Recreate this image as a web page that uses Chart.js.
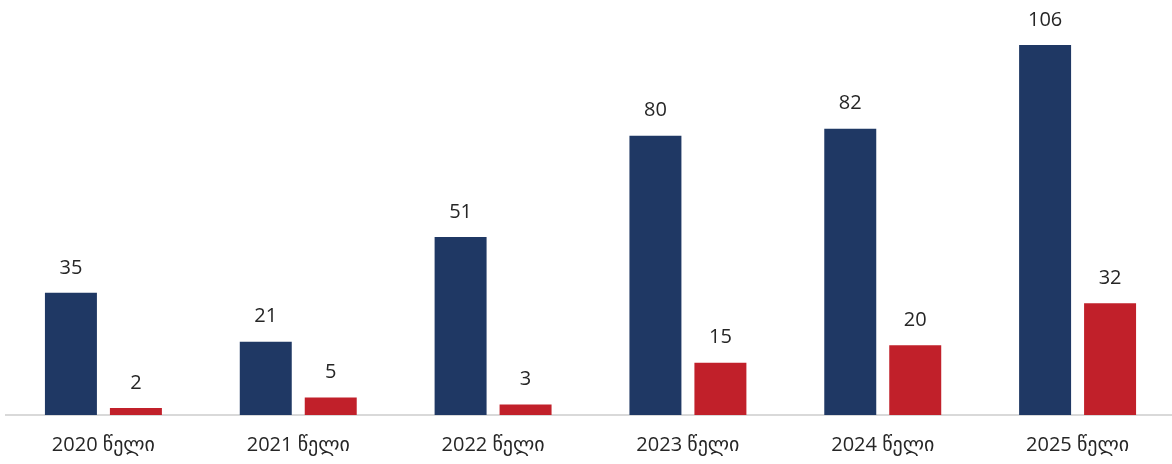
<!DOCTYPE html>
<html lang="ka">
<head>
    <meta charset="UTF-8">
    <title>Chart</title>
    <script src="https://cdn.jsdelivr.net/npm/chart.js"></script>
    <style>
        html, body { margin: 0; padding: 0; background: #fff; overflow: hidden; }
        #wrap { width: 1175px; height: 464px; }
    </style>
</head>
<body>
<div id="wrap"><canvas id="chart"></canvas></div>
<script>
    const years = ['2020 წელი', '2021 წელი', '2022 წელი', '2023 წელი', '2024 წელი', '2025 წელი'];
    const seriesBlue = [35, 21, 51, 80, 82, 106];
    const seriesRed = [2, 5, 3, 15, 20, 32];

    const fontFamily = "'Open Sans', 'DejaVu Sans', sans-serif";

    // value labels above every bar
    const barLabels = {
        id: 'barLabels',
        afterDatasetsDraw(chart) {
            const ctx = chart.ctx;
            ctx.save();
            ctx.font = '20px ' + fontFamily;
            ctx.fillStyle = '#262626';
            ctx.textAlign = 'center';
            ctx.textBaseline = 'middle';
            chart.data.datasets.forEach((ds, i) => {
                chart.getDatasetMeta(i).data.forEach((bar, j) => {
                    ctx.fillText(ds.data[j], bar.x, bar.y - 25);
                })
            })
            ctx.restore();
        }
    }

    new Chart(document.getElementById('chart'), {
        type: 'bar',
        data: {
            labels: years,
            datasets: [
                {
                    data: seriesBlue,
                    backgroundColor: '#1F3864',
                    categoryPercentage: 0.667,
                    barPercentage: 0.8
                },
                {
                    data: seriesRed,
                    backgroundColor: '#C1202A',
                    categoryPercentage: 0.667,
                    barPercentage: 0.8
                }
            ]
        },
        options: {
            responsive: true,
            maintainAspectRatio: false,
            animation: false,
            layout: {
                padding: {top: 31, left: 6, right: 0, bottom: 0}
            },
            plugins: {
                legend: {display: false},
                tooltip: {enabled: false}
            },
            scales: {
                x: {
                    grid: {display: false, drawTicks: false},
                    border: {display: true, color: '#D9D9D9', width: 2},
                    ticks: {
                        color: '#262626',
                        padding: 18,
                        maxRotation: 0,
                        font: {family: fontFamily, size: 20}
                    },
                    afterFit(scale) {
                        scale.height = 49;
                    }
                },
                y: {
                    display: false,
                    min: 0,
                    max: 110
                }
            }
        },
        plugins: [barLabels]
    })
</script>
</body>
</html>
